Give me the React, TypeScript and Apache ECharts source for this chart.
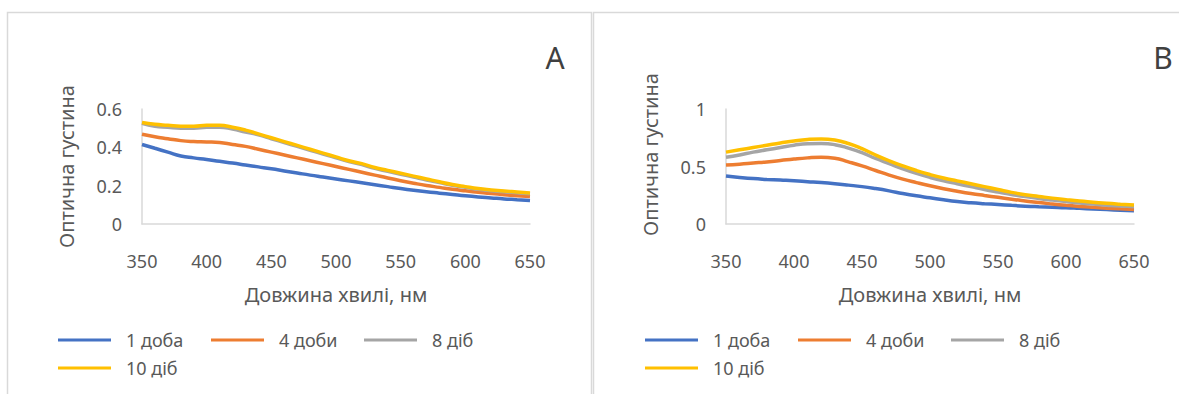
import React, { useEffect, useRef } from "react";
import * as echarts from "echarts";

const wavelengths = [350, 360, 370, 380, 390, 400, 410, 420, 430, 440, 450, 460, 470, 480, 490, 500, 510, 520, 530, 540, 550, 560, 570, 580, 590, 600, 610, 620, 630, 640, 650];

const seriesNames = ["1 доба", "4 доби", "8 діб", "10 діб"];
const seriesColors = ["#4472C4", "#ED7D31", "#A5A5A5", "#FFC000"];

// Panel A
const a1 = [0.415, 0.395, 0.375, 0.355, 0.345, 0.337, 0.327, 0.318, 0.308, 0.298, 0.288, 0.277, 0.266, 0.255, 0.245, 0.235, 0.225, 0.215, 0.205, 0.195, 0.185, 0.176, 0.168, 0.161, 0.154, 0.147, 0.141, 0.136, 0.131, 0.127, 0.123];
const a4 = [0.468, 0.455, 0.445, 0.435, 0.43, 0.428, 0.425, 0.415, 0.405, 0.39, 0.375, 0.36, 0.345, 0.33, 0.315, 0.3, 0.285, 0.27, 0.255, 0.24, 0.226, 0.213, 0.201, 0.191, 0.181, 0.173, 0.166, 0.159, 0.153, 0.148, 0.143];
const a8 = [0.525, 0.51, 0.505, 0.5, 0.5, 0.505, 0.505, 0.495, 0.48, 0.465, 0.445, 0.425, 0.405, 0.385, 0.365, 0.345, 0.326, 0.31, 0.29, 0.275, 0.26, 0.245, 0.23, 0.216, 0.202, 0.191, 0.181, 0.174, 0.168, 0.163, 0.158];
const a10 = [0.53, 0.52, 0.515, 0.51, 0.51, 0.515, 0.515, 0.505, 0.49, 0.47, 0.45, 0.43, 0.41, 0.39, 0.37, 0.35, 0.33, 0.315, 0.295, 0.28, 0.265, 0.25, 0.235, 0.22, 0.206, 0.195, 0.185, 0.178, 0.172, 0.167, 0.162];

// Panel B
const b1 = [0.417, 0.405, 0.395, 0.388, 0.382, 0.376, 0.368, 0.36, 0.35, 0.338, 0.325, 0.308, 0.288, 0.265, 0.245, 0.228, 0.21, 0.195, 0.185, 0.177, 0.17, 0.162, 0.155, 0.15, 0.146, 0.142, 0.136, 0.13, 0.125, 0.12, 0.115];
const b4 = [0.513, 0.52, 0.53, 0.54, 0.552, 0.565, 0.575, 0.58, 0.572, 0.54, 0.505, 0.465, 0.425, 0.39, 0.36, 0.332, 0.307, 0.285, 0.265, 0.248, 0.232, 0.215, 0.2, 0.186, 0.174, 0.163, 0.153, 0.145, 0.138, 0.132, 0.126];
const b8 = [0.58, 0.6, 0.625, 0.645, 0.665, 0.685, 0.698, 0.7, 0.69, 0.66, 0.62, 0.57, 0.525, 0.48, 0.44, 0.405, 0.375, 0.35, 0.325, 0.3, 0.278, 0.257, 0.238, 0.222, 0.208, 0.195, 0.183, 0.173, 0.164, 0.156, 0.15];
const b10 = [0.625, 0.645, 0.665, 0.685, 0.705, 0.722, 0.735, 0.74, 0.73, 0.7, 0.655, 0.6, 0.55, 0.505, 0.465, 0.43, 0.4, 0.375, 0.35, 0.325, 0.3, 0.275, 0.255, 0.24, 0.225, 0.212, 0.2, 0.19, 0.18, 0.172, 0.165];

const panelA = [a1, a4, a8, a10];
const panelB = [b1, b4, b8, b10];

const xTicks = { min: 350, max: 650, interval: 50 };
const yA = { min: 0, max: 0.6, interval: 0.2 };
const yB = { min: 0, max: 1, interval: 0.5 };

const xName = "Довжина хвилі, нм";
const yName = "Оптична густина";

const FONT = "'Noto Sans', 'Open Sans', sans-serif";
const TXT = "#595959";
const AXIS = "#D9D9D9";

export default function App() {
  const ref = useRef<HTMLDivElement>(null);
  useEffect(() => {
    document.body.style.margin = "0";
    if (!ref.current) return;
    const chart = echarts.init(ref.current, undefined, { renderer: "svg" });

    const mkX = (gridIndex: number) => ({
      type: "value",
      gridIndex,
      min: xTicks.min,
      max: xTicks.max,
      interval: xTicks.interval,
      name: xName,
      nameLocation: "middle",
      nameGap: 60,
      nameTextStyle: { fontFamily: FONT, fontSize: 20, color: TXT },
      axisLine: { show: true, lineStyle: { color: AXIS, width: 1.5 } },
      axisTick: { show: false },
      splitLine: { show: false },
      axisLabel: { margin: 28, fontFamily: FONT, fontSize: 18, color: TXT },
    });
    const mkY = (gridIndex: number, r: { min: number; max: number; interval: number }, pad: number[]) => ({
      type: "value",
      gridIndex,
      min: r.min,
      max: r.max,
      interval: r.interval,
      name: yName,
      nameLocation: "middle",
      nameGap: 66,
      nameRotate: 90,
      nameTextStyle: { fontFamily: FONT, fontSize: 20, color: TXT, padding: pad },
      axisLine: { show: true, lineStyle: { color: AXIS, width: 1.5 } },
      axisTick: { show: false },
      splitLine: { show: false },
      axisLabel: { margin: 20, fontFamily: FONT, fontSize: 18, color: TXT },
    });

    const series: any[] = [];
    [panelA, panelB].forEach((panel, gi) => {
      panel.forEach((vals, si) => {
        series.push({
          type: "line",
          name: seriesNames[si],
          xAxisIndex: gi,
          yAxisIndex: gi,
          data: wavelengths.map((w, i) => [w, vals[i]]),
          smooth: true,
          showSymbol: false,
          symbol: "none",
          lineStyle: { color: seriesColors[si], width: 3.5 },
          itemStyle: { color: seriesColors[si] },
          z: 2 + si,
        });
      });
    });

    const mkLegend = (left: number) => ({
      left,
      top: 326,
      width: 470,
      orient: "horizontal",
      itemWidth: 53,
      itemHeight: 3,
      itemGap: 10,
      icon: "rect",
      data: seriesNames,
      textStyle: {
        fontFamily: FONT,
        fontSize: 18,
        color: TXT,
        lineHeight: 18,
        width: 75,
        padding: [0, 0, 0, 10],
      },
    });

    chart.setOption({
      animation: false,
      color: seriesColors,
      grid: [
        { left: 142, top: 109, width: 388, height: 115 },
        { left: 726, top: 109, width: 408, height: 115 },
      ],
      xAxis: [mkX(0), mkX(1)],
      yAxis: [mkY(0, yA, [0, 0, 0, 0]), mkY(1, yB, [0, 0, 0, 24])],
      legend: [mkLegend(53), mkLegend(640)],
      series,
      graphic: [
        {
          type: "rect",
          shape: { x: 7.5, y: 12.5, width: 584, height: 420 },
          style: { fill: "none", stroke: AXIS, lineWidth: 1.5 },
          silent: true,
        },
        {
          type: "rect",
          shape: { x: 593.5, y: 12.5, width: 620, height: 420 },
          style: { fill: "none", stroke: AXIS, lineWidth: 1.5 },
          silent: true,
        },
        {
          type: "text",
          x: 555,
          y: 57,
          style: { text: "A", font: `30px ${FONT}`, fill: "#404040", align: "center", verticalAlign: "middle" },
        },
        {
          type: "text",
          x: 1163,
          y: 57,
          style: { text: "B", font: `30px ${FONT}`, fill: "#404040", align: "center", verticalAlign: "middle" },
        },
      ],
    });
    return () => chart.dispose();
  }, []);
  return <div ref={ref} style={{ width: 1179, height: 394 }} />;
}
